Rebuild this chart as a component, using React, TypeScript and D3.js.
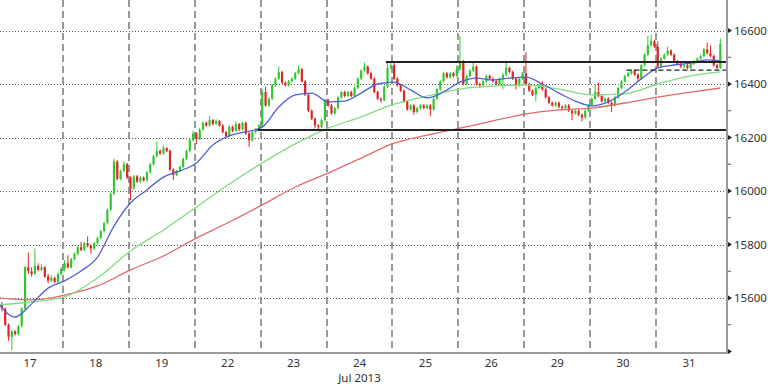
import React from "react";
import * as d3 from "d3";

// ---- Data ----
const dayLabels = ["17", "18", "19", "22", "23", "24", "25", "26", "29", "30", "31"];
const monthLabel = "Jul 2013";
const barsPerDay = 20;
const firstOpen = 15520;

const closes = [
  // 17
  15575, 15560, 15500, 15455, 15475, 15465, 15495, 15560, 15715, 15700, 15690, 15720, 15705, 15715, 15680, 15665, 15675, 15660, 15690, 15710,
  // 18
  15730, 15715, 15745, 15765, 15790, 15780, 15805, 15795, 15785, 15805, 15825, 15850, 15880, 15930, 15990, 16110, 16045, 16075, 16100, 16050,
  // 19
  16010, 16055, 16035, 16050, 16040, 16070, 16100, 16130, 16150, 16140, 16160, 16150, 16080, 16060, 16075, 16090, 16120, 16150, 16190, 16215,
  // 22
  16195, 16230, 16255, 16245, 16265, 16250, 16262, 16245, 16220, 16205, 16240, 16225, 16250, 16230, 16255, 16215, 16190, 16220, 16230, 16245,
  // 23
  16370, 16320, 16345, 16395, 16420, 16445, 16405, 16395, 16410, 16420, 16440, 16455, 16410, 16360, 16300, 16270, 16245, 16240, 16265, 16340,
  // 24
  16320, 16290, 16310, 16350, 16370, 16355, 16370, 16355, 16385, 16420, 16450, 16465, 16440, 16420, 16370, 16345, 16340, 16390, 16460, 16470,
  // 25
  16420, 16395, 16375, 16335, 16305, 16320, 16295, 16310, 16320, 16310, 16320, 16305, 16345, 16380, 16410, 16440, 16425, 16440, 16430, 16455,
  // 26
  16485, 16400, 16430, 16450, 16465, 16400, 16395, 16410, 16430, 16420, 16410, 16400, 16420, 16435, 16460, 16445, 16420, 16395, 16420, 16440,
  // 29
  16400, 16375, 16360, 16385, 16395, 16380, 16350, 16330, 16320, 16330, 16315, 16310, 16320, 16300, 16290, 16300, 16285, 16275, 16300, 16320,
  // 30
  16345, 16370, 16355, 16335, 16345, 16330, 16320, 16350, 16385, 16410, 16430, 16440, 16450, 16435, 16420, 16470, 16510, 16545, 16560, 16540,
  // 31
  16465, 16495, 16510, 16525, 16510, 16485, 16475, 16465, 16470, 16460, 16475, 16485, 16495, 16505, 16530, 16515, 16505, 16470, 16460, 16550,
];

const highs = [
  15590, 15585, 15565, 15505, 15480, 15480, 15500, 15565, 15720, 15770, 15715, 15785, 15730, 15725, 15720, 15690, 15685, 15680, 15695, 15715,
  15740, 15760, 15750, 15770, 15795, 15810, 15810, 15830, 15800, 15810, 15830, 15855, 15885, 15935, 15995, 16120, 16115, 16080, 16110, 16105,
  16055, 16060, 16060, 16055, 16055, 16075, 16105, 16135, 16185, 16155, 16170, 16165, 16155, 16085, 16080, 16095, 16125, 16155, 16195, 16225,
  16220, 16235, 16260, 16260, 16280, 16270, 16268, 16265, 16250, 16225, 16245, 16245, 16260, 16255, 16260, 16260, 16220, 16225, 16235, 16250,
  16380, 16390, 16350, 16400, 16425, 16465, 16450, 16410, 16415, 16425, 16445, 16470, 16460, 16415, 16365, 16305, 16275, 16250, 16270, 16345,
  16345, 16325, 16315, 16355, 16375, 16375, 16375, 16375, 16390, 16425, 16455, 16480, 16470, 16445, 16425, 16375, 16350, 16395, 16485, 16485,
  16485, 16425, 16400, 16380, 16340, 16325, 16325, 16315, 16325, 16325, 16325, 16325, 16350, 16385, 16415, 16445, 16445, 16445, 16445, 16470,
  16580, 16490, 16435, 16455, 16480, 16470, 16405, 16415, 16435, 16435, 16425, 16415, 16425, 16440, 16480, 16465, 16450, 16425, 16425, 16445,
  16520, 16405, 16380, 16390, 16400, 16410, 16385, 16355, 16335, 16335, 16335, 16320, 16325, 16325, 16305, 16305, 16305, 16290, 16305, 16325,
  16350, 16400, 16405, 16360, 16350, 16350, 16335, 16355, 16390, 16415, 16435, 16445, 16455, 16455, 16440, 16475, 16515, 16580, 16585, 16565,
  16560, 16500, 16515, 16540, 16530, 16515, 16490, 16480, 16475, 16475, 16480, 16490, 16500, 16510, 16535, 16555, 16545, 16510, 16475, 16570,
];

const lows = [
  15510, 15550, 15495, 15440, 15405, 15460, 15460, 15490, 15555, 15690, 15680, 15685, 15700, 15700, 15675, 15655, 15660, 15655, 15655, 15685,
  15700, 15710, 15710, 15740, 15760, 15775, 15775, 15790, 15765, 15780, 15800, 15820, 15845, 15875, 15925, 15985, 16040, 16040, 16070, 16045,
  15966, 16005, 16030, 16030, 16035, 16035, 16065, 16095, 16125, 16135, 16135, 16145, 16075, 16040, 16055, 16070, 16085, 16115, 16145, 16185,
  16175, 16190, 16225, 16240, 16240, 16245, 16248, 16240, 16215, 16200, 16200, 16220, 16220, 16225, 16225, 16210, 16165, 16185, 16215, 16225,
  16240, 16315, 16315, 16340, 16390, 16415, 16400, 16390, 16390, 16405, 16415, 16435, 16405, 16355, 16295, 16265, 16235, 16230, 16235, 16260,
  16315, 16285, 16285, 16305, 16345, 16350, 16350, 16350, 16350, 16380, 16415, 16445, 16435, 16415, 16365, 16340, 16330, 16335, 16385, 16455,
  16415, 16390, 16370, 16330, 16300, 16300, 16285, 16290, 16305, 16305, 16305, 16280, 16300, 16340, 16375, 16405, 16420, 16420, 16425, 16425,
  16450, 16395, 16395, 16425, 16445, 16395, 16385, 16390, 16405, 16415, 16405, 16395, 16395, 16380, 16430, 16440, 16415, 16380, 16390, 16415,
  16395, 16370, 16355, 16335, 16380, 16375, 16345, 16325, 16315, 16315, 16310, 16300, 16305, 16295, 16265, 16285, 16280, 16260, 16270, 16295,
  16315, 16340, 16350, 16330, 16330, 16325, 16295, 16315, 16345, 16380, 16405, 16425, 16435, 16430, 16410, 16415, 16465, 16505, 16540, 16535,
  16460, 16460, 16490, 16505, 16505, 16480, 16470, 16460, 16455, 16455, 16455, 16470, 16480, 16490, 16500, 16510, 16500, 16465, 16455, 16455,
];

// Moving averages, read at every 5th bar (blue) / every 10th bar (green, red), last value at the final bar
const blueMA = [
  15578, 15529, 15578, 15637, 15664, 15701, 15753, 15869, 15955, 16004,
  16052, 16075, 16105, 16172, 16206, 16221, 16239, 16314, 16359, 16366,
  16333, 16336, 16366, 16400, 16407, 16378, 16348, 16370, 16407, 16422,
  16415, 16422, 16426, 16400, 16366, 16336, 16318, 16333, 16370, 16419,
  16460, 16471, 16478, 16490, 16486,
];
const greenMA = [
  15574, 15585, 15604, 15675, 15776, 15854, 15940, 16026, 16105, 16176,
  16235, 16277, 16325, 16355, 16381, 16392, 16396, 16381, 16359, 16363,
  16400, 16430, 16445,
];
const redMA = [
  15600, 15593, 15611, 15645, 15705, 15757, 15824, 15884, 15948, 16015,
  16067, 16123, 16179, 16209, 16235, 16262, 16288, 16303, 16310, 16329,
  16351, 16370, 16385,
];

// Horizontal levels (value, first bar index, dashed)
const levelValues = [16482, 16228, 16452];
const levelStarts = [118, 79, 191];
const levelDashed = [false, false, true];

const yLabelTicks = [15600, 15800, 16000, 16200, 16400, 16600];
const yMajorTicks = [15400, 15600, 15800, 16000, 16200, 16400, 16600];
const yMinorTicks = [15500, 15700, 15900, 16100, 16300, 16500];
const gridValues = [15400, 15600, 15800, 16000, 16200, 16400, 16600];

export default function App() {
  const W = 768, H = 384;
  const axisX = 727;
  const plotBottom = 352;
  const nBars = closes.length;

  const x = d3.scaleLinear().domain([0, nBars]).range([-3, 722]);
  const y = d3.scaleLinear().domain([15400, 16600]).range([351.5, 30.5]);

  const opens = closes.map((c, i) => (i === 0 ? firstOpen : closes[i - 1]));

  const green = "#2fc92f";
  const red = "#e02424";

  const idxBlue = blueMA.map((_, k) => (k < blueMA.length - 1 ? k * 5 : nBars - 1));
  const idxTen = greenMA.map((_, k) => (k < greenMA.length - 1 ? k * 10 : nBars - 1));

  const lineGen = (idx: number[]) =>
    d3
      .line<number>()
      .x((_, k) => x(idx[k] + 0.5))
      .y((v) => y(v))
      .curve(d3.curveMonotoneX);

  const font = "'Noto Sans', 'Open Sans', sans-serif";

  return (
    <svg
      width={W}
      height={H}
      style={{ position: "absolute", left: 0, top: 0, background: "#fff" }}
    >
      <defs>
        <clipPath id="plot">
          <rect x={0} y={0} width={axisX} height={plotBottom} />
        </clipPath>
      </defs>
      <rect x={0} y={0} width={W} height={H} fill="#fff" />
      <g clipPath="url(#plot)">
        {gridValues.map((v) => (
          <line
            key={"g" + v}
            x1={0}
            x2={axisX}
            y1={Math.round(y(v)) + 0.5}
            y2={Math.round(y(v)) + 0.5}
            stroke="#555"
            strokeWidth={1}
            strokeDasharray="1,2"
          />
        ))}
        {dayLabels.slice(1).map((d, k) => {
          const xv = Math.round(x((k + 1) * barsPerDay));
          return (
            <line
              key={"v" + d}
              x1={xv}
              x2={xv}
              y1={0}
              y2={plotBottom}
              stroke="#808080"
              strokeWidth={1.6}
              strokeDasharray="7,4"
            />
          );
        })}
        {closes.map((c, i) => {
          const o = opens[i];
          const col = c >= o ? green : red;
          const cx = x(i + 0.5);
          const top = y(Math.max(o, c));
          const bot = y(Math.min(o, c));
          return (
            <g key={"c" + i}>
              <line
                x1={cx}
                x2={cx}
                y1={y(highs[i])}
                y2={y(lows[i])}
                stroke={col}
                strokeWidth={1}
              />
              <rect
                x={cx - 1.1}
                y={top}
                width={2.2}
                height={Math.max(1, bot - top)}
                fill={col}
              />
            </g>
          );
        })}
        <path d={lineGen(idxTen)(redMA) || ""} fill="none" stroke="#e06a6a" strokeWidth={1.3} />
        <path d={lineGen(idxTen)(greenMA) || ""} fill="none" stroke="#7fdc7f" strokeWidth={1.3} />
        <path d={lineGen(idxBlue)(blueMA) || ""} fill="none" stroke="#4f5fd6" strokeWidth={1.3} />
        {levelValues.map((v, k) => (
          <line
            key={"l" + k}
            x1={x(levelStarts[k])}
            x2={axisX}
            y1={y(v)}
            y2={y(v)}
            stroke="#222"
            strokeWidth={levelDashed[k] ? 1.3 : 2}
            strokeDasharray={levelDashed[k] ? "5,3" : undefined}
          />
        ))}
      </g>
      {/* axes */}
      <line x1={axisX} x2={axisX} y1={0} y2={plotBottom + 1} stroke="#9a9a9a" strokeWidth={2} />
      <line x1={0} x2={axisX + 1} y1={plotBottom + 1} y2={plotBottom + 1} stroke="#9a9a9a" strokeWidth={2} />
      {yMajorTicks.map((v) => (
        <path
          key={"t" + v}
          d={`M${axisX + 1},${y(v) - 2.5} L${axisX + 5},${y(v)} L${axisX + 1},${y(v) + 2.5} Z`}
          fill="#222"
        />
      ))}
      {yMinorTicks.map((v) => (
        <line
          key={"m" + v}
          x1={axisX + 1}
          x2={axisX + 4}
          y1={y(v)}
          y2={y(v)}
          stroke="#555"
          strokeWidth={1}
        />
      ))}
      {yLabelTicks.map((v) => (
        <text
          key={"yl" + v}
          x={axisX + 7}
          y={y(v) + 4}
          fontFamily={font}
          fontSize={11.5}
          fill="#333"
        >
          {v}
        </text>
      ))}
      {dayLabels.map((d, k) => (
        <text
          key={"xl" + d}
          x={x(k * barsPerDay + barsPerDay / 2)}
          y={367}
          textAnchor="middle"
          fontFamily={font}
          fontSize={11.5}
          fill="#333"
        >
          {d}
        </text>
      ))}
      <text
        x={x(5 * barsPerDay + barsPerDay / 2)}
        y={382}
        textAnchor="middle"
        fontFamily={font}
        fontSize={11.5}
        fill="#333"
      >
        {monthLabel}
      </text>
    </svg>
  );
}
